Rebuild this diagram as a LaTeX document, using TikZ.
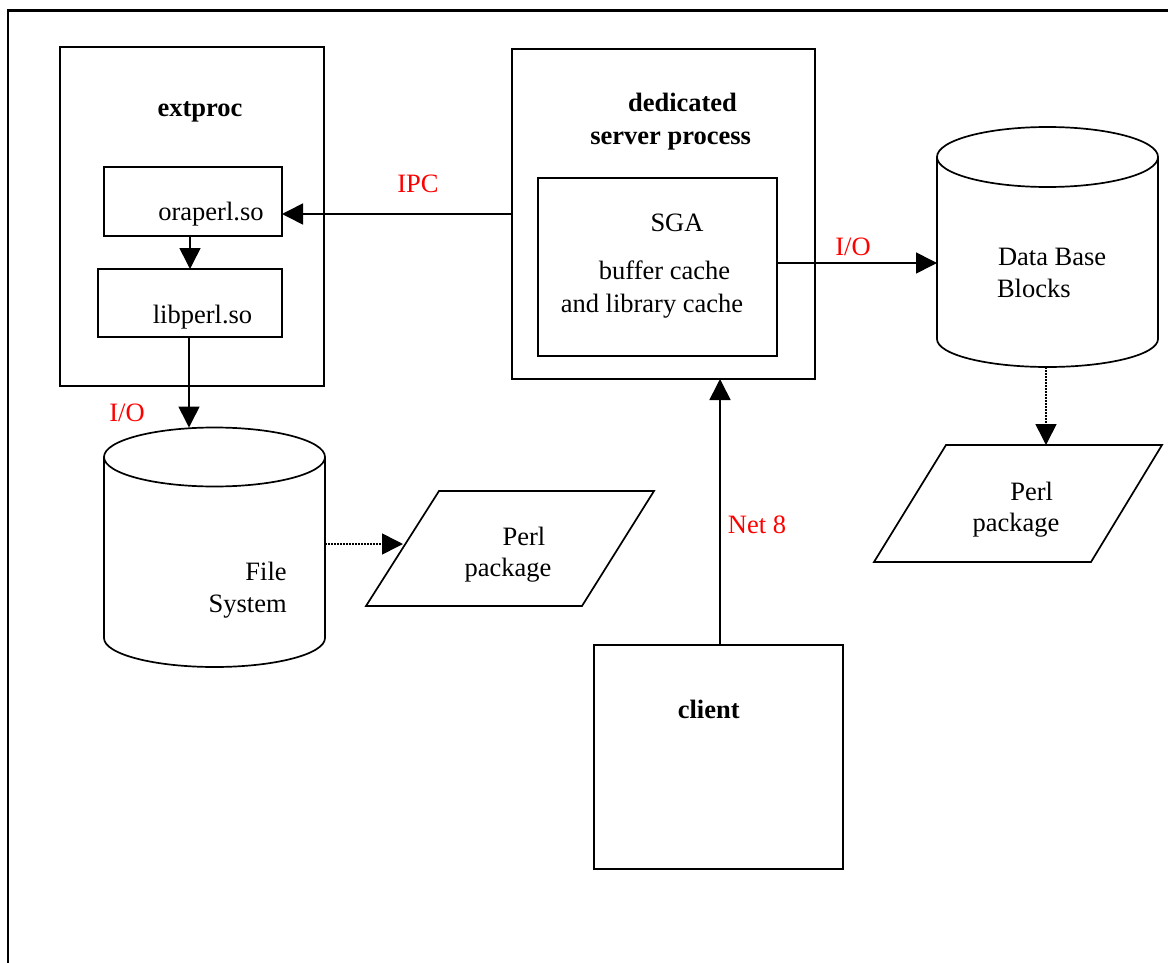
\documentclass[tikz,border=0pt]{standalone}
\usepackage{fontspec}
\setmainfont{Liberation Serif}
\usetikzlibrary{arrows.meta}
\begin{document}
\begin{tikzpicture}[x=1pt,y=1pt,
  every node/.style={inner sep=0pt, outer sep=0pt},
  box/.style={draw, line width=2pt},
  hidden/.style={draw=none},
  lbl/.style={font=\fontsize{26.5}{32}\selectfont},
  blbl/.style={font=\fontsize{26.5}{32}\selectfont\bfseries},
  rlbl/.style={font=\fontsize{26.5}{32}\selectfont, text=red},
  arr/.style={line width=1.6pt, -{Triangle[length=21pt,width=21pt]}},
  dotarr/.style={arr, dash pattern=on 1.5pt off 1.5pt},
  shapeline/.style={line width=1.7pt}
]
\useasboundingbox (0,0) rectangle (1168,-963);
\fill[white] (0,0) rectangle (1168,-963);
% outer frame
\draw[line width=2.2pt, line join=miter] (8,-963) -- (8,-10.5) -- (1168,-10.5);

% extproc
\node[box, minimum width=264pt, minimum height=339pt] (extproc) at (192,-216.5) {};
\node[blbl, anchor=base] (extproctxt) at (200,-117) {extproc};
\node[box, minimum width=178pt, minimum height=69pt] (oraperl) at (193,-201.5) {};
\node[lbl, anchor=base] (oraperltxt) at (211,-221) {oraperl.so};
\node[box, minimum width=184pt, minimum height=68pt] (libperl) at (190,-303) {};
\node[lbl, anchor=base] (libperltxt) at (202.5,-323) {libperl.so};

% dedicated server process
\node[box, minimum width=303pt, minimum height=330pt] (server) at (663.5,-214) {};
\node[blbl, anchor=base] (srv1) at (682.5,-111.7) {dedicated};
\node[blbl, anchor=base] (srv2) at (670.6,-145) {server process};
\node[box, minimum width=239pt, minimum height=178pt] (sga) at (657.5,-267) {};
\node[lbl, anchor=base] (sga1) at (677,-231.7) {SGA};
\node[lbl, anchor=base] (sga2) at (664.5,-279) {buffer cache};
\node[lbl, anchor=base] (sga3) at (652,-312.7) {and library cache};

% client
\node[box, minimum width=249pt, minimum height=224pt] (client) at (718.5,-757) {};
\node[blbl, anchor=base] (clienttxt) at (708.7,-718.3) {client};

% Data Base cylinder
\node[hidden, minimum width=221pt, minimum height=240pt] (db) at (1047.5,-247) {};
\draw[shapeline] (1047.5,-157) ellipse [x radius=110.5pt, y radius=30pt];
\draw[shapeline] (937,-157) -- (937,-339) arc[start angle=180, end angle=360, x radius=110.5pt, y radius=28pt] -- (1158,-157);
\node[lbl, anchor=base west] (db1) at (998,-265) {Data Base};
\node[lbl, anchor=base west] (db2) at (997,-297) {Blocks};

% File System cylinder
\node[hidden, minimum width=221pt, minimum height=240pt] (fs) at (214.5,-547.5) {};
\draw[shapeline] (214.5,-457) ellipse [x radius=110.5pt, y radius=29.5pt];
\draw[shapeline] (104,-457) -- (104,-638) arc[start angle=180, end angle=360, x radius=110.5pt, y radius=29pt] -- (325,-457);
\node[lbl, anchor=base east] (fs1) at (286.7,-580) {File};
\node[lbl, anchor=base east] (fs2) at (286.7,-612.7) {System};

% Perl packages
\draw[shapeline] (439,-491) -- (654,-491) -- (582,-606) -- (366,-606) -- cycle;
\node[lbl, anchor=base] (perlL1) at (524,-545) {Perl};
\node[lbl, anchor=base] (perlL2) at (508,-576) {package};
\coordinate (perlLin) at (403,-544);

\draw[shapeline] (946,-445) -- (1162,-445) -- (1091,-562) -- (874,-562) -- cycle;
\node[lbl, anchor=base] (perlR1) at (1031.7,-500.7) {Perl};
\node[lbl, anchor=base] (perlR2) at (1016,-531.7) {package};
\coordinate (perlRin) at (1046,-445);

% helper coordinates
\coordinate (xa) at (190,0);
\coordinate (xb) at (189,0);
\coordinate (xc) at (1046,0);
\coordinate (xd) at (720,0);
\coordinate (ya) at (0,-263);
\coordinate (yb) at (0,-544);

% connectors
\draw[arr] (server.west) -- (oraperl.east |- server.west);
\draw[arr] (oraperl.south -| xa) -- (libperl.north -| xa);
\draw[arr] (libperl.south -| xb) -- (fs.north -| xb);
\draw[arr] (sga.east |- ya) -- (db.west |- ya);
\draw[dotarr] (db.south -| xc) -- (perlRin);
\draw[dotarr] (fs.east |- yb) -- (perlLin);
\draw[arr] (client.north -| xd) -- (server.south -| xd);

% red labels
\node[rlbl, anchor=base] (ipc) at (418,-193) {IPC};
\node[rlbl, anchor=base] (io1) at (127,-421) {I/O};
\node[rlbl, anchor=base] (io2) at (853,-255) {I/O};
\node[rlbl, anchor=base] (net) at (757,-533) {Net 8};
\end{tikzpicture}
\end{document}
